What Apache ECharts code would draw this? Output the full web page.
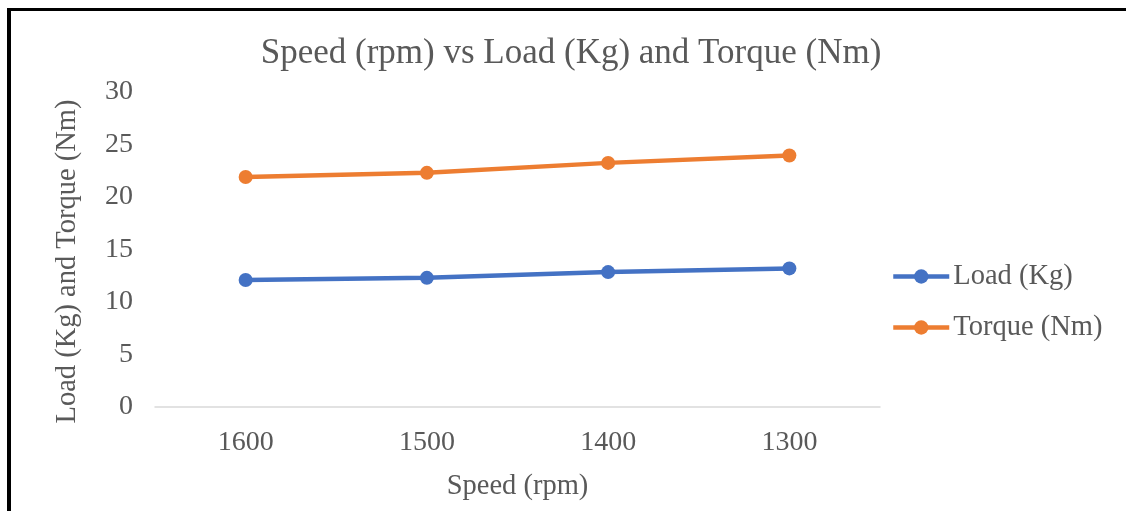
<!DOCTYPE html>
<html>
<head>
<meta charset="utf-8">
<script src="https://cdn.jsdelivr.net/npm/echarts@6/dist/echarts.min.js"></script>
<style>
  html, body { margin: 0; padding: 0; background: #fff; }
  #frame {
    position: absolute; left: 7px; top: 8px; width: 1130px; height: 520px;
    border-top: 3px solid #000; border-left: 4px solid #000; box-sizing: border-box;
  }
  #chart { position: absolute; left: 0; top: 0; width: 1126px; height: 511px; }
</style>
</head>
<body>
<div id="frame"></div>
<div id="chart"></div>
<script>
const speeds = ['1600', '1500', '1400', '1300']
const load = [12.1, 12.3, 12.85, 13.2]
const torque = [21.9, 22.3, 23.25, 23.95]

const textColor = '#595959'
const font = '"Liberation Serif", "DejaVu Serif", serif'

const myChart = echarts.init(document.getElementById('chart'))
myChart.setOption({
    animation: false,
    textStyle: { fontFamily: font },
    title: {
        text: 'Speed (rpm) vs Load (Kg) and Torque (Nm)',
        left: 566,
        textAlign: 'center',
        top: 31,
        textStyle: { fontFamily: font, fontSize: 35, fontWeight: 'normal', color: textColor }
    },
    legend: {
        orient: 'vertical',
        left: 886,
        top: 257,
        itemGap: 22,
        itemWidth: 56,
        itemHeight: 18,
        lineStyle: { width: 4.5 },
        textStyle: { fontFamily: font, fontSize: 28.5, color: textColor, padding: [0, 0, 0, -1] },
        data: ['Load (Kg)', 'Torque (Nm)']
    },
    grid: { left: 155, right: 246, top: 92, bottom: 104 },
    xAxis: {
        type: 'category',
        data: speeds,
        name: 'Speed (rpm)',
        nameLocation: 'middle',
        nameGap: 65,
        nameTextStyle: { fontFamily: font, fontSize: 28.5, color: textColor },
        axisTick: { show: false },
        axisLine: { lineStyle: { color: '#d9d9d9', width: 1.5 } },
        axisLabel: { fontFamily: font, fontSize: 28, color: textColor, margin: 22 }
    },
    yAxis: {
        type: 'value',
        min: 0,
        max: 30,
        interval: 5,
        name: 'Load (Kg) and Torque (Nm)',
        nameLocation: 'middle',
        nameGap: 73,
        nameTextStyle: { fontFamily: font, fontSize: 28.5, color: textColor, padding: [0, 24, 0, 0] },
        axisLine: { show: false },
        axisTick: { show: false },
        splitLine: { show: false },
        axisLabel: { fontFamily: font, fontSize: 28, color: textColor, margin: 22 }
    },
    series: [
        {
            name: 'Load (Kg)',
            type: 'line',
            data: load,
            symbol: 'circle',
            symbolSize: 14,
            color: '#4472c4',
            lineStyle: { width: 4.5 }
        },
        {
            name: 'Torque (Nm)',
            type: 'line',
            data: torque,
            symbol: 'circle',
            symbolSize: 14,
            color: '#ed7d31',
            lineStyle: { width: 4.5 }
        }
    ]
})
</script>
</body>
</html>
